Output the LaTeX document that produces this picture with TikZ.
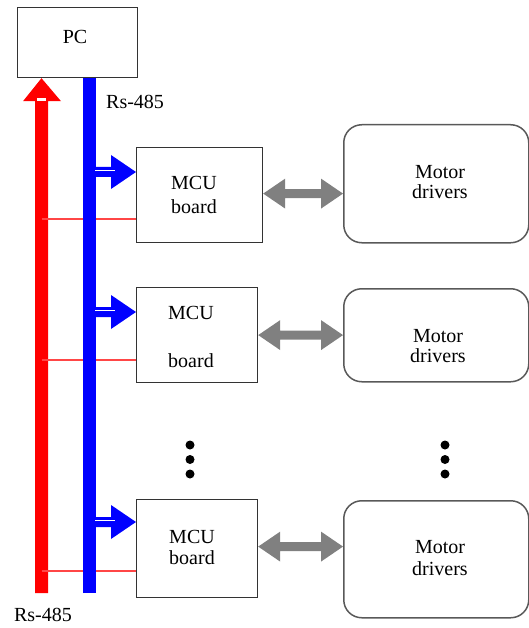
\documentclass[tikz,border=0pt]{standalone}
\usepackage{fontspec}
\setmainfont{Liberation Serif}
\newfontfamily\serffont{Liberation Serif}
\usetikzlibrary{calc}
\definecolor{redc}{RGB}{255,0,0}
\definecolor{bluec}{RGB}{0,0,255}
\definecolor{grayc}{RGB}{128,128,128}
\definecolor{thinred}{RGB}{255,70,70}
\newcommand{\myBlueArrow}[2]{%
  \fill[bluec] ($(#1)+(0,-5)$) -- ($(#2)+(-25,-5)$) -- ($(#2)+(-25,-17)$) -- (#2)
    -- ($(#2)+(-25,17)$) -- ($(#2)+(-25,5)$) -- ($(#1)+(0,5)$) -- cycle;
  \draw[white, line width=0.8pt] ($(#1)+(6,-1.5)$) -- ($(#2)+(-21,-1.5)$);}
\newcommand{\myGrayArrow}[2]{%
  \fill[grayc] (#1) -- ($(#1)+(22,-15)$) -- ($(#1)+(22,-4.5)$) -- ($(#2)+(-22,-4.5)$)
    -- ($(#2)+(-22,-15)$) -- (#2) -- ($(#2)+(-22,15)$) -- ($(#2)+(-22,4.5)$)
    -- ($(#1)+(22,4.5)$) -- ($(#1)+(22,15)$) -- cycle;}
\begin{document}
\begin{tikzpicture}[x=1pt,y=-1pt,
  box/.style={draw=black!80, line width=1.2pt, rectangle, inner sep=0pt, anchor=north west},
  drvbox/.style={draw=black!65, line width=1.5pt, rectangle, rounded corners=18pt,
    inner sep=0pt, anchor=north west},
  lbl/.style={inner sep=0pt, align=center, font=\serffont\fontsize{20}{24}\selectfont},
  dlbl/.style={inner sep=0pt, align=center, font=\serffont\fontsize{20}{20}\selectfont},
  dotn/.style={circle, fill=black, inner sep=0pt, minimum size=9pt}]
\useasboundingbox (0,0) rectangle (529,628);

% PC
\node[box, minimum width=120pt, minimum height=70pt] (pc) at (17,7) {};
\node[lbl] (pct) at (75,37) {PC};

% MCU boards
\node[box, minimum width=126pt, minimum height=95pt] (m1) at (136,147) {};
\node[box, minimum width=121pt, minimum height=95pt] (m2) at (136,287) {};
\node[box, minimum width=121pt, minimum height=98pt] (m3) at (136,499) {};
\node[lbl] (m1t) at (194,195) {MCU\\board};
\node[lbl] (m2t) at (191,337) {MCU\\[24pt]board};
\node[lbl, font=\serffont\fontsize{20}{21}\selectfont] (m3t) at (192,547.5) {MCU\\board};

% Motor drivers
\node[drvbox, minimum width=185pt, minimum height=118pt] (d1) at (343,124) {};
\node[drvbox, minimum width=185pt, minimum height=93pt] (d2) at (343,288) {};
\node[drvbox, minimum width=185pt, minimum height=117pt] (d3) at (343,500) {};
\node[dlbl] (d1t) at (440,182.5) {Motor\\drivers};
\node[dlbl] (d2t) at (438,346) {Motor\\drivers};
\node[dlbl, font=\serffont\fontsize{20}{22}\selectfont] (d3t) at (440,558) {Motor\\drivers};

% labels
\node[lbl, anchor=west] (rs1) at (106,102) {Rs-485};
\node[lbl] (rs2) at (43,615) {Rs-485};

% dots
\node[dotn] (k1) at (190,445) {};
\node[dotn] (k2) at (190,459.5) {};
\node[dotn] (k3) at (190,474) {};
\node[dotn] (k4) at (445,445) {};
\node[dotn] (k5) at (445,459.5) {};
\node[dotn] (k6) at (445,474) {};

% red bus arrow
\coordinate (rbot) at (41.5,593);
\coordinate (rtop) at (rbot |- pc.south);
\fill[redc] ($(rbot)+(-6.5,0)$) -- ($(rtop)+(-6.5,23)$) -- ($(rtop)+(-18.5,23)$) -- (rtop)
  -- ($(rtop)+(19.5,23)$) -- ($(rtop)+(6.5,23)$) -- ($(rbot)+(6.5,0)$) -- cycle;
\fill[white] ($(rtop)+(-4.5,20)$) rectangle ($(rtop)+(4.5,23)$);

% thin red lines
\coordinate (r1) at ($(m1.south west)+(0,-24)$);
\coordinate (r2) at ($(m2.south west)+(0,-23)$);
\coordinate (r3) at ($(m3.south west)+(0,-27)$);
\draw[thinred, line width=1.5pt] (rbot |- r1) -- (r1);
\draw[thinred, line width=1.5pt] (rbot |- r2) -- (r2);
\draw[thinred, line width=1.5pt] (rbot |- r3) -- (r3);

% blue bus
\coordinate (bbot) at (89,593);
\draw[bluec, line width=13pt] (bbot) -- (bbot |- pc.south);

% blue branch arrows
\coordinate (a1e) at ($(m1.north west)+(0,25)$);
\coordinate (a2e) at ($(m2.north west)+(0,25)$);
\coordinate (a3e) at ($(m3.north west)+(0,23)$);
\coordinate (a1s) at (bbot |- a1e);
\coordinate (a2s) at (bbot |- a2e);
\coordinate (a3s) at (bbot |- a3e);
\myBlueArrow{a1s}{a1e}
\myBlueArrow{a2s}{a2e}
\myBlueArrow{a3s}{a3e}

% gray double arrows
\coordinate (g1) at ($(m1.east)+(0,-1.5)$);
\coordinate (g2) at (m2.east);
\coordinate (g3) at ($(m3.east)+(0,-2)$);
\coordinate (h1) at (g1 -| d1.west);
\coordinate (h2) at (g2 -| d2.west);
\coordinate (h3) at (g3 -| d3.west);
\myGrayArrow{g1}{h1}
\myGrayArrow{g2}{h2}
\myGrayArrow{g3}{h3}
\end{tikzpicture}
\end{document}
